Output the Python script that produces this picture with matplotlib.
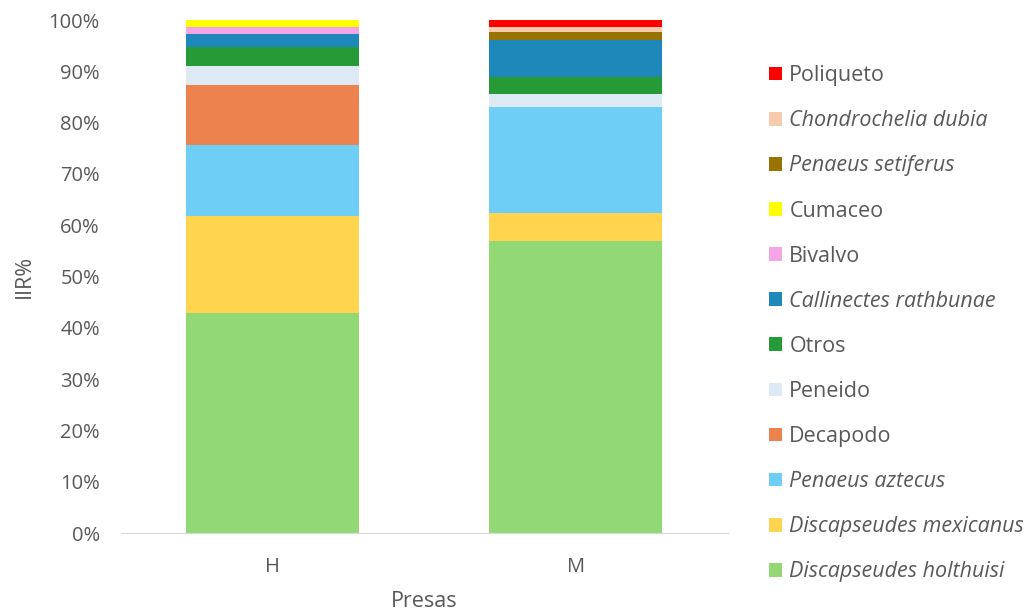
import numpy as np
import matplotlib.pyplot as plt
from matplotlib.patches import Patch

plt.rcParams['font.family'] = ['Open Sans', 'DejaVu Sans']

presas = ['H', 'M']

# IIR% por grupo presa (de abajo hacia arriba en la barra)
grupos = ['Discapseudes holthuisi', 'Discapseudes mexicanus', 'Penaeus aztecus',
          'Decapodo', 'Peneido', 'Otros', 'Callinectes rathbunae', 'Bivalvo',
          'Cumaceo', 'Penaeus setiferus', 'Chondrochelia dubia', 'Poliqueto']
holthuisi = [42.9, 56.9]
mexicanus = [19.0, 5.5]
aztecus = [13.7, 20.6]
decapodo = [11.7, 0.0]
peneido = [3.8, 2.5]
otros = [3.7, 3.5]
callinectes = [2.5, 7.2]
bivalvo = [1.3, 0.0]
cumaceo = [1.4, 0.0]
setiferus = [0.0, 1.4]
chondrochelia = [0.0, 1.0]
poliqueto = [0.0, 1.4]

valores = [holthuisi, mexicanus, aztecus, decapodo, peneido, otros,
           callinectes, bivalvo, cumaceo, setiferus, chondrochelia, poliqueto]
colores = ['#92D975', '#FFD44F', '#6FCEF5', '#EC834F', '#DDE9F5', '#259A37',
           '#1F88BA', '#F3A5E8', '#FFFF00', '#997300', '#F8CBAD', '#FF0000']
cursiva = [True, True, True, False, False, False, True, False, False, True, True, False]

gris = '#595959'

fig = plt.figure(figsize=(10.32, 6.15), dpi=100)
ax = fig.add_axes([0.117, 0.1333, 0.588, 0.834])

x = np.arange(len(presas))
base = np.zeros(len(presas))
for v, c in zip(valores, colores):
    v = np.array(v)
    ax.bar(x, v, bottom=base, width=0.57, color=c, linewidth=0)
    base += v

ax.set_xlim(-0.5, 1.5)
ax.set_ylim(0, 100)
ax.set_yticks(np.arange(0, 101, 10))
ax.set_yticklabels([f'{t}%' for t in range(0, 101, 10)])
ax.set_xticks(x)
ax.set_xticklabels(presas)
ax.tick_params(axis='both', length=0, labelsize=14.5, colors=gris)
ax.tick_params(axis='x', pad=17)
ax.tick_params(axis='y', pad=15)
for s in ['top', 'right', 'left']:
    ax.spines[s].set_visible(False)
ax.spines['bottom'].set_color('#D9D9D9')
ax.set_ylabel('IIR%', fontsize=15.5, color=gris, labelpad=10)
ax.set_xlabel('Presas', fontsize=15.5, color=gris, labelpad=10)

handles = [Patch(facecolor=c, edgecolor='none') for c in colores][::-1]
leg = fig.legend(handles, grupos[::-1], loc='upper left',
                 bbox_to_anchor=(0.745, 0.894), frameon=False, fontsize=15.5,
                 handlelength=0.6, handleheight=0.6, handletextpad=0.35,
                 labelspacing=1.12, borderpad=0, borderaxespad=0)
for t, it in zip(leg.get_texts(), cursiva[::-1]):
    t.set_color(gris)
    if it:
        t.set_fontstyle('italic')

fig.savefig('out.png', dpi=100)
